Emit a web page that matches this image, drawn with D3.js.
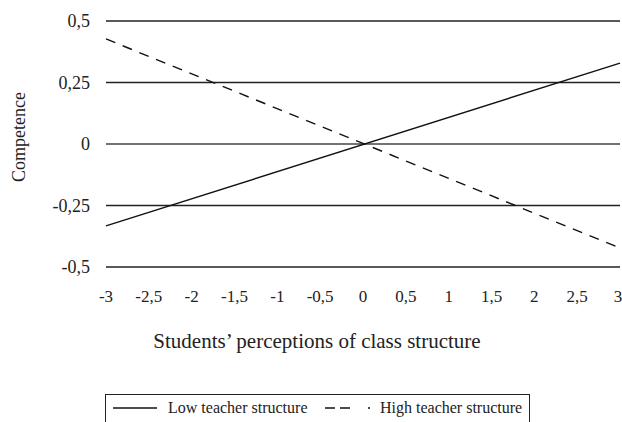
<!DOCTYPE html>
<html>
    <head>
        <meta charset="utf-8">
        <style>
            body { margin: 0; background: #fff; }
        </style>
    </head>
    <body>
        <svg id="chart" width="622" height="422" font-family="'Liberation Serif', 'Times New Roman', serif"></svg>
        <script src="https://d3js.org/d3.v7.min.js"></script>
        <script>
            var xTicks = [-3, -2.5, -2, -1.5, -1, -0.5, 0, 0.5, 1, 1.5, 2, 2.5, 3];
            var yTicks = [-0.5, -0.25, 0, 0.25, 0.5];
            var xEnds = [-3, 3];
            var lowValues = [-0.333, 0.329];
            var highValues = [0.427, -0.423];
            var seriesNames = ["Low teacher structure", "High teacher structure"];

            var svg = d3.select("#chart");
            var x = d3.scaleLinear().domain([-3, 3]).range([106, 620]);
            var y = d3.scaleLinear().domain([-0.5, 0.5]).range([267, 21]);
            var fmt = function(d){ return String(d).replace(".", ","); };

            // horizontal grid lines
            svg.selectAll("line.grid")
                .data(yTicks)
                .enter()
                .append("line")
                .attr("x1", x(-3))
                .attr("x2", x(3))
                .attr("y1", function(d){ return y(d); })
                .attr("y2", function(d){ return y(d); })
                .attr("stroke", function(d){ return d === 0 ? "#444" : "#222"; })
                .attr("stroke-width", function(d){ return d === 0 ? 1.6 : 1.3; });

            svg.selectAll("text.ytick")
                .data(yTicks)
                .enter()
                .append("text")
                .attr("x", 90)
                .attr("y", function(d){ return y(d) + 6; })
                .attr("text-anchor", "end")
                .attr("font-size", 18)
                .attr("fill", "#222")
                .text(fmt);

            svg.selectAll("text.xtick")
                .data(xTicks)
                .enter()
                .append("text")
                .attr("x", function(d){ return d === 3 ? x(d) - 2 : x(d); })
                .attr("y", 302)
                .attr("text-anchor", "middle")
                .attr("font-size", 17)
                .attr("fill", "#222")
                .text(fmt);

            var line = d3.line()
                .x(function(d){ return x(d[0]); })
                .y(function(d){ return y(d[1]); });

            svg.append("path")
                .attr("d", line(d3.zip(xEnds, lowValues)))
                .attr("fill", "none")
                .attr("stroke", "#111")
                .attr("stroke-width", 1.4);

            svg.append("path")
                .attr("d", line(d3.zip(xEnds, highValues)))
                .attr("fill", "none")
                .attr("stroke", "#111")
                .attr("stroke-width", 1.4)
                .attr("stroke-dasharray", "10,8");

            svg.append("text")
                .attr("transform", "translate(25,137) rotate(-90)")
                .attr("text-anchor", "middle")
                .attr("font-size", 18)
                .attr("fill", "#222")
                .text("Competence");

            svg.append("text")
                .attr("x", 317)
                .attr("y", 348)
                .attr("text-anchor", "middle")
                .attr("font-size", 21)
                .attr("fill", "#222")
                .text("Students\u2019 perceptions of class structure");

            // legend
            var legend = svg.append("g");
            legend.append("rect")
                .attr("x", 105.5)
                .attr("y", 394.5)
                .attr("width", 424)
                .attr("height", 40)
                .attr("fill", "none")
                .attr("stroke", "#222")
                .attr("stroke-width", 1);
            legend.append("line")
                .attr("x1", 113).attr("x2", 157)
                .attr("y1", 408).attr("y2", 408)
                .attr("stroke", "#111").attr("stroke-width", 1.4);
            legend.append("text")
                .attr("x", 168).attr("y", 413)
                .attr("font-size", 16)
                .attr("fill", "#222")
                .text(seriesNames[0]);
            legend.append("line")
                .attr("x1", 325).attr("x2", 370)
                .attr("y1", 408).attr("y2", 408)
                .attr("stroke", "#111").attr("stroke-width", 1.4)
                .attr("stroke-dasharray", "10,5,10,18,2");
            legend.append("text")
                .attr("x", 380).attr("y", 413)
                .attr("font-size", 16)
                .attr("fill", "#222")
                .text(seriesNames[1]);
        </script>
    </body>
</html>
